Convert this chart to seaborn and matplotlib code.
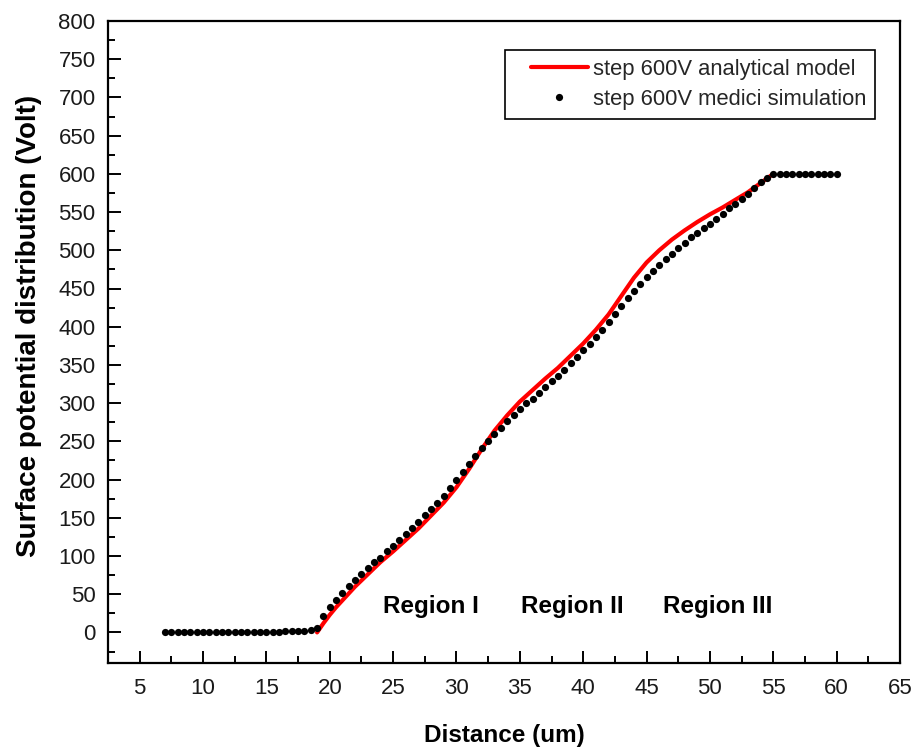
import matplotlib
matplotlib.use("Agg")
import matplotlib.pyplot as plt
from matplotlib.lines import Line2D
from matplotlib.legend_handler import HandlerLine2D
from matplotlib.ticker import MultipleLocator
import numpy as np
import pandas as pd
import seaborn as sns

# Analytical model: surface potential along the drift region (step 600 V)
model_x = [19, 19.5, 20, 20.5, 21, 21.5, 22, 23, 24, 25, 26, 27, 28, 29, 30,
           31, 32, 33, 34, 35, 36, 37, 38, 39, 40, 41, 42, 43, 44, 45, 46,
           47, 48, 49, 50, 51, 52, 53, 54, 55]
model_v = [0, 12, 23, 33, 42, 51, 60, 76, 92, 106, 121, 136, 153, 170, 190,
           214, 240, 264, 284, 302, 317, 332, 346, 362, 378, 396, 416, 440, 464, 484, 500,
           514, 526, 537, 547, 556, 566, 576, 588, 600]

# MEDICI device simulation samples
sim_x = [7.0, 7.5, 8.0, 8.5, 9.0, 9.5, 10.0, 10.5, 11.0, 11.5, 12.0, 12.5, 13.0, 13.5,
         14.0, 14.5, 15.0, 15.5, 16.0, 16.5, 17.0, 17.5, 18.0, 18.5, 19.0, 19.5, 20.0,
         20.5, 21.0, 21.5, 22.0, 22.5, 23.0, 23.5, 24.0, 24.5, 25.0, 25.5, 26.0, 26.5,
         27.0, 27.5, 28.0, 28.5, 29.0, 29.5, 30.0, 30.5, 31.0, 31.5, 32.0, 32.5, 33.0,
         33.5, 34.0, 34.5, 35.0, 35.5, 36.0, 36.5, 37.0, 37.5, 38.0, 38.5, 39.0, 39.5,
         40.0, 40.5, 41.0, 41.5, 42.0, 42.5, 43.0, 43.5, 44.0, 44.5, 45.0, 45.5, 46.0,
         46.5, 47.0, 47.5, 48.0, 48.5, 49.0, 49.5, 50.0, 50.5, 51.0, 51.5, 52.0, 52.5,
         53.0, 53.5, 54.0, 54.5, 55.0, 55.5, 56.0, 56.5, 57.0, 57.5, 58.0, 58.5, 59.0,
         59.5, 60.0]
sim_v = [0, 0, 0, 0, 0, 0, 0, 0, 0, 0, 0, 0, 0, 0,
         0, 0, 0.5, 1, 1, 1.5, 1.5, 2, 2.5, 3, 6, 22, 33,
         43, 52, 61, 69, 77, 84, 92, 98, 106, 113, 121, 129, 137,
         145, 153, 162, 170, 179, 189, 200, 210, 221, 231, 241, 251, 260,
         268, 277, 285, 292, 300, 306, 313, 321, 329, 336, 344, 352, 361,
         370, 378, 387, 396, 406, 417, 427, 438, 447, 456, 465, 473, 481,
         488, 495, 503, 510, 517, 523, 529, 535, 541, 548, 555, 561, 567,
         573, 581, 589, 595, 600, 600, 600, 600, 600, 600, 600, 600, 600,
         600, 600]

region_labels = ["Region I", "Region II", "Region III"]
region_x = [24.2, 35.1, 46.3]

x_ticks = [5, 10, 15, 20, 25, 30, 35, 40, 45, 50, 55, 60, 65]
y_ticks = list(range(0, 801, 50))

sns.set_theme(style="ticks")
plt.rcParams["font.family"] = ["Liberation Sans", "DejaVu Sans"]

model_df = pd.DataFrame({"x": model_x, "v": model_v})
sim_df = pd.DataFrame({"x": sim_x, "v": sim_v})

fig = plt.figure(figsize=(9.17, 7.55), dpi=100)
ax = fig.add_axes([108 / 917, 1 - 663 / 755, 792 / 917, 642 / 755])

sns.lineplot(data=model_df, x="x", y="v", ax=ax, color="#ff0000", linewidth=3.0,
             estimator=None, label="step 600V analytical model", zorder=2)
sns.lineplot(data=sim_df, x="x", y="v", ax=ax, color="black", linestyle="none",
             marker="o", markersize=5.2, markeredgewidth=0, estimator=None,
             label="step 600V medici simulation", zorder=3)

ax.set_xlim(2.5, 65)
ax.set_ylim(-40, 800)
ax.set_xticks(x_ticks)
ax.set_yticks(y_ticks)
ax.xaxis.set_minor_locator(MultipleLocator(2.5))
ax.yaxis.set_minor_locator(MultipleLocator(25))

ax.tick_params(which="major", direction="in", length=9, width=1.4, colors="black",
               labelsize=16, labelcolor="#1a1a1a")
ax.tick_params(which="minor", direction="in", length=5, width=1.4, colors="black")
ax.tick_params(axis="x", which="major", pad=11)
ax.tick_params(axis="y", which="major", pad=9)

for side in ["left", "right", "top", "bottom"]:
    ax.spines[side].set_visible(True)
    ax.spines[side].set_linewidth(1.6)
    ax.spines[side].set_color("black")

ax.set_xlabel("Distance (um)", fontsize=17.5, fontweight="bold", color="black")
ax.set_ylabel("Surface potential distribution (Volt)", fontsize=20,
              fontweight="bold", color="black")
ax.xaxis.set_label_coords(0.5, -0.095)
ax.yaxis.set_label_coords(-0.083, 0.525)

for lbl, xpos in zip(region_labels, region_x):
    ax.text(xpos, 26, lbl, fontsize=17.5, fontweight="bold", ha="left",
            va="baseline", color="black")

handles, labels = ax.get_legend_handles_labels()
leg = ax.legend(handles, labels, loc="upper right",
                bbox_to_anchor=(0.9684, 0.9548), borderaxespad=0,
                fontsize=15.8, frameon=True, fancybox=False, shadow=False,
                handlelength=3.37, handletextpad=0.23, borderpad=0.4,
                labelspacing=0.42,
                handler_map={Line2D: HandlerLine2D(xpad=0.78)})
leg.get_frame().set_edgecolor("black")
leg.get_frame().set_linewidth(1.2)
leg.get_frame().set_alpha(1)

fig.savefig("out.png", dpi=100)
